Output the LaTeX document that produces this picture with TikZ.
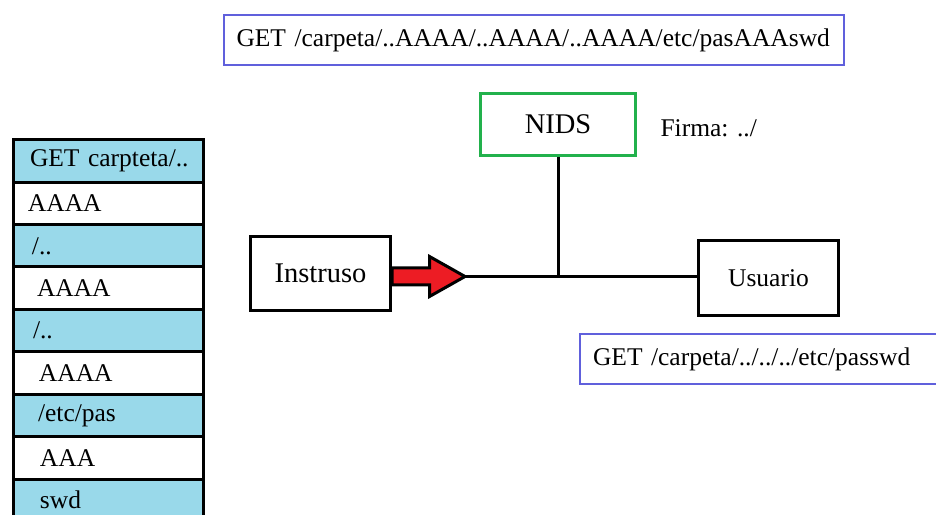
\documentclass[tikz,border=0pt]{standalone}
\usepackage{fontspec}
\setmainfont{Liberation Serif}
\usetikzlibrary{positioning}
\definecolor{rowblue}{RGB}{153,217,234}
\definecolor{nidsgreen}{RGB}{34,177,76}
\definecolor{msgblue}{RGB}{96,96,220}
\definecolor{pushred}{RGB}{237,28,36}

\begin{document}
\begin{tikzpicture}[
    x=1pt, y=1pt,
    node distance=42.4pt,
    line width=3pt,
    every node/.style={font=\fontsize{25.5}{30}\selectfont},
    cell/.style={draw, minimum height=42.4pt, text width=170pt, inner xsep=10pt, inner ysep=4pt, align=left},
    bluecell/.style={cell, fill=rowblue},
    whitecell/.style={cell, fill=white},
    hostbox/.style={draw, minimum width=140pt, minimum height=74pt},
    nidsbox/.style={draw=nidsgreen, minimum width=155pt, minimum height=62pt},
    msgbox/.style={draw=msgblue, line width=2pt, minimum height=50pt, align=left, inner xsep=13pt},
    bigfont/.style={font=\fontsize{28.5}{33}\selectfont},
    link/.style={line width=3pt},
    pusharrow/.style={draw, fill=pushred, line width=3pt}
]
\clip (0,0) rectangle (936,514);
% packet split in fragments
\node[bluecell] (getrow) at (108,353) {\hspace*{7pt}GET carpteta/..};
\node[whitecell, below of=getrow] (aaaa1) {\hspace*{5pt}AAAA};
\node[bluecell, below of=aaaa1] (dots1) {\hspace*{9pt}/..};
\node[whitecell, below of=dots1] (aaaa2) {\hspace*{14pt}AAAA};
\node[bluecell, below of=aaaa2] (dots2) {\hspace*{10pt}/..};
\node[whitecell, below of=dots2] (aaaa3) {\hspace*{16pt}AAAA};
\node[bluecell, below of=aaaa3] (etcpas) {\hspace*{15pt}/etc/pas};
\node[whitecell, below of=etcpas] (aaa) {\hspace*{17pt}AAA};
\node[bluecell, below of=aaa] (swd) {\hspace*{17pt}swd};
% messages
\node[msgbox, text width=594pt] (request) at (533.5,473.5) {GET /carpeta/..AAAA/..AAAA/..AAAA/etc/pasAAAswd};
\node[msgbox, text width=352pt, anchor=north west] (decoded) at (579,181) {GET /carpeta/../../../etc/passwd};
% network
\node[nidsbox, bigfont] (nids) at (558,389.5) {NIDS};
\node[anchor=west, inner sep=0pt] (firma) at (659,386) {Firma: ../};
\node[hostbox, bigfont] (intruder) at (320.5,240.5) {Instruso};
\node[hostbox, minimum height=75pt] (user) at (768.5,236) {Usuario};
\coordinate (tip) at (465,237.5);
\draw[pusharrow] (intruder.east |- tip) ++(0,8.5) -- ++(37.5,0) -- ++(0,11.5) -- (tip) -- ++(-35.5,-20) -- ++(0,11.5) -- ++(-37.5,0) -- cycle;
\draw[link] (tip) -- (user.west |- tip);
\draw[link] (nids.south) -- (nids.south |- tip);
\end{tikzpicture}
\end{document}
